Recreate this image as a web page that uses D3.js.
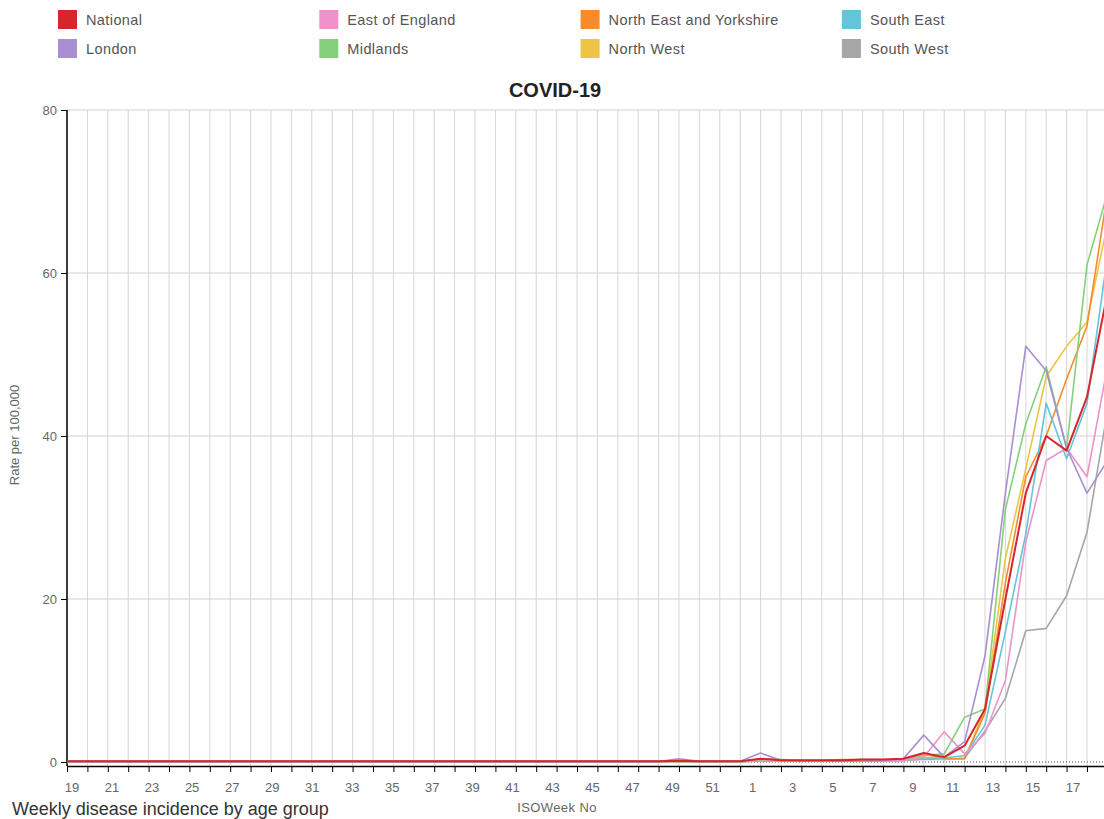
<!DOCTYPE html>
<html>
  <head>
    <title>COVID-19 rate per 100,000</title>
    <script src="https://cdn.jsdelivr.net/npm/d3@7"></script>
    <style>
      body { margin: 0; background: #fff; }
      text { font-family: "Liberation Sans", Arial, sans-serif; }
    </style>
  </head>
  <body>
    <svg width="1104" height="819" id="mainsvg" style="display: block"></svg>
    <script>
      // ISO weeks: 2019 w19 .. 2020 w18
      const weeks = [
        19, 20, 21, 22, 23, 24, 25, 26, 27, 28, 29, 30, 31, 32, 33, 34, 35, 36,
        37, 38, 39, 40, 41, 42, 43, 44, 45, 46, 47, 48, 49, 50, 51, 52,
        1, 2, 3, 4, 5, 6, 7, 8, 9, 10, 11, 12, 13, 14, 15, 16, 17, 18
      ];
      const yTicks = [0, 20, 40, 60, 80];

      const regionNames = ["National", "East of England", "North East and Yorkshire", "South East",
                           "London", "Midlands", "North West", "South West"];
      const regionColors = ["#d7262b", "#ee93c9", "#f58b2b", "#62c5d9",
                            "#a98ed2", "#84d07b", "#eec444", "#a6a6a6"];

      // rate per 100,000, one value per week above
      const national = [
        0.1, 0.1, 0.1, 0.1, 0.1, 0.1, 0.1, 0.1, 0.1, 0.1,
        0.1, 0.1, 0.1, 0.1, 0.1, 0.1, 0.1, 0.1, 0.1, 0.1,
        0.1, 0.1, 0.1, 0.1, 0.1, 0.1, 0.1, 0.1, 0.1, 0.1,
        0.15, 0.1, 0.1, 0.1,
        0.4, 0.2, 0.2, 0.2, 0.2, 0.3, 0.3, 0.4,
        1.1, 0.6, 2.0, 6.5, 20, 33, 40, 38.2, 44.8, 57.5
      ];
      const eastOfEngland = [
        0.05, 0.05, 0.05, 0.05, 0.05, 0.05, 0.05, 0.05, 0.05, 0.05,
        0.05, 0.05, 0.05, 0.05, 0.05, 0.05, 0.05, 0.05, 0.05, 0.05,
        0.05, 0.05, 0.05, 0.05, 0.05, 0.05, 0.05, 0.05, 0.05, 0.05,
        0.1, 0.05, 0.05, 0.05,
        0.3, 0.1, 0.1, 0.1, 0.1, 0.1, 0.1, 0.2,
        0.6, 3.7, 1.0, 3.5, 10, 27, 37, 38.5, 35, 48.5
      ];
      const northEastYorks = [
        0.05, 0.05, 0.05, 0.05, 0.05, 0.05, 0.05, 0.05, 0.05, 0.05,
        0.05, 0.05, 0.05, 0.05, 0.05, 0.05, 0.05, 0.05, 0.05, 0.05,
        0.05, 0.05, 0.05, 0.05, 0.05, 0.05, 0.05, 0.05, 0.05, 0.05,
        0.1, 0.05, 0.05, 0.05,
        0.4, 0.3, 0.2, 0.2, 0.3, 0.3, 0.3, 0.3,
        1.0, 0.4, 0.4, 6, 22, 35, 40, 47, 53.5, 69.7
      ];
      const southEast = [
        0.05, 0.05, 0.05, 0.05, 0.05, 0.05, 0.05, 0.05, 0.05, 0.05,
        0.05, 0.05, 0.05, 0.05, 0.05, 0.05, 0.05, 0.05, 0.05, 0.05,
        0.05, 0.05, 0.05, 0.05, 0.05, 0.05, 0.05, 0.05, 0.05, 0.05,
        0.1, 0.05, 0.05, 0.05,
        0.2, 0.1, 0.1, 0.1, 0.1, 0.1, 0.1, 0.2,
        0.5, 0.5, 0.8, 4.5, 16, 28, 44, 37.2, 44, 62
      ];
      const london = [
        0.05, 0.05, 0.05, 0.05, 0.05, 0.05, 0.05, 0.05, 0.05, 0.05,
        0.05, 0.05, 0.05, 0.05, 0.05, 0.05, 0.05, 0.05, 0.05, 0.05,
        0.05, 0.05, 0.05, 0.05, 0.05, 0.05, 0.05, 0.05, 0.05, 0.05,
        0.4, 0.1, 0.1, 0.1,
        1.1, 0.2, 0.1, 0.1, 0.1, 0.1, 0.2, 0.4,
        3.3, 0.6, 2.5, 13, 33, 51, 48, 38.5, 33, 37
      ];
      const midlands = [
        0.05, 0.05, 0.05, 0.05, 0.05, 0.05, 0.05, 0.05, 0.05, 0.05,
        0.05, 0.05, 0.05, 0.05, 0.05, 0.05, 0.05, 0.05, 0.05, 0.05,
        0.05, 0.05, 0.05, 0.05, 0.05, 0.05, 0.05, 0.05, 0.05, 0.05,
        0.1, 0.05, 0.05, 0.05,
        0.2, 0.1, 0.1, 0.1, 0.1, 0.1, 0.2, 0.3,
        0.8, 1.0, 5.5, 6.5, 31, 41.5, 48.5, 38.5, 61, 69.8
      ];
      const northWest = [
        0.05, 0.05, 0.05, 0.05, 0.05, 0.05, 0.05, 0.05, 0.05, 0.05,
        0.05, 0.05, 0.05, 0.05, 0.05, 0.05, 0.05, 0.05, 0.05, 0.05,
        0.05, 0.05, 0.05, 0.05, 0.05, 0.05, 0.05, 0.05, 0.05, 0.05,
        0.05, 0.05, 0.05, 0.05,
        0.2, 0.1, 0.1, 0.1, 0.1, 0.1, 0.1, 0.2,
        0.6, 0.3, 0.4, 6.5, 25, 36, 47.3, 51, 54, 66
      ];
      const southWest = [
        0.05, 0.05, 0.05, 0.05, 0.05, 0.05, 0.05, 0.05, 0.05, 0.05,
        0.05, 0.05, 0.05, 0.05, 0.05, 0.05, 0.05, 0.05, 0.05, 0.05,
        0.05, 0.05, 0.05, 0.05, 0.05, 0.05, 0.05, 0.05, 0.05, 0.05,
        0.05, 0.05, 0.05, 0.05,
        0.1, 0.1, 0.1, 0.1, 0.1, 0.1, 0.1, 0.2,
        0.3, 0.3, 0.5, 3.8, 7.8, 16.1, 16.4, 20.4, 28.2, 43
      ];
      const regionValues = [national, eastOfEngland, northEastYorks, southEast,
                            london, midlands, northWest, southWest];

      const svg = d3.select("#mainsvg");
      const width = +svg.attr("width");
      const margin = { left: 67, top: 110, zero: 762, axis: 766 };

      // x: one step per week, the last week runs just past the right edge
      const x = d3.scaleLinear().domain([0, weeks.length - 1]).range([margin.left, margin.left + 20.4 * 51]);
      // tick labels sit on a slightly tighter spacing than the ticks
      const xLabel = d3.scaleLinear().domain([0, weeks.length - 1]).range([72, 1093]);
      const y = d3.scaleLinear().domain([0, 80]).range([margin.zero, margin.top]);

      // 网格
      const grid = svg.append("g");
      grid.selectAll(".vgrid")
        .data(d3.range(weeks.length))
        .join("line")
        .attr("x1", (d) => x(d)).attr("x2", (d) => x(d))
        .attr("y1", margin.top).attr("y2", margin.axis)
        .attr("stroke", "#d6d6d6");
      grid.selectAll(".hgrid")
        .data(yTicks.slice(1))
        .join("line")
        .attr("x1", margin.left).attr("x2", width)
        .attr("y1", (d) => y(d)).attr("y2", (d) => y(d))
        .attr("stroke", "#d0d0d0");

      // dotted zero line
      svg.append("line")
        .attr("x1", margin.left).attr("x2", width)
        .attr("y1", y(0)).attr("y2", y(0))
        .attr("stroke", "#555").attr("stroke-dasharray", "1,2");

      // x axis: a tick every week, label every other week
      const xAxis = svg.append("g")
        .attr("transform", `translate(0, ${margin.axis})`)
        .call(d3.axisBottom(x).tickValues(d3.range(weeks.length)).tickFormat("").tickSize(6).tickSizeOuter(0));
      xAxis.select(".domain").attr("stroke", "#000").attr("stroke-width", 1.5);
      xAxis.selectAll(".tick line").attr("stroke", "#000");

      svg.append("g").selectAll("text")
        .data(d3.range(0, weeks.length, 2))
        .join("text")
        .attr("x", (d) => xLabel(d))
        .attr("y", 792)
        .attr("text-anchor", "middle")
        .attr("font-size", 13)
        .attr("fill", "#666")
        .text((d) => weeks[d]);

      // y axis
      const yAxis = svg.append("g")
        .attr("transform", `translate(${margin.left}, 0)`)
        .call(d3.axisLeft(y).tickValues(yTicks).tickSize(6).tickPadding(4));
      yAxis.select(".domain").remove();
      yAxis.selectAll(".tick line").attr("stroke", "#000");
      yAxis.selectAll(".tick text").attr("font-size", 13).attr("fill", "#666")
        .attr("font-family", "Liberation Sans, Arial, sans-serif");
      svg.append("line")
        .attr("x1", margin.left).attr("x2", margin.left)
        .attr("y1", margin.top).attr("y2", margin.axis)
        .attr("stroke", "#000").attr("stroke-width", 1.5);

      // 折线, National 画在最上面
      const line = d3.line().x((d, i) => x(i)).y((d) => y(d));
      const order = [7, 6, 2, 3, 5, 1, 4, 0];
      svg.append("g").selectAll("path")
        .data(order)
        .join("path")
        .attr("d", (k) => line(regionValues[k]))
        .attr("fill", "none")
        .attr("stroke", (k) => regionColors[k])
        .attr("stroke-width", (k) => (k === 0 ? 2 : 1.6))
        .attr("stroke-linejoin", "round");

      // legend, 2 rows x 4 columns
      const legend = svg.append("g").selectAll("g")
        .data(regionNames)
        .join("g")
        .attr("transform", (d, i) => `translate(${58 + (i % 4) * 261.3}, ${10 + Math.floor(i / 4) * 29})`);
      legend.append("rect")
        .attr("width", 19).attr("height", 19)
        .attr("fill", (d, i) => regionColors[i]);
      legend.append("text")
        .attr("x", 28).attr("y", 9.5).attr("dy", "0.35em")
        .attr("font-size", 14.5)
        .attr("letter-spacing", 0.4)
        .attr("fill", "#555")
        .text((d) => d);

      // titles
      svg.append("text")
        .attr("x", 555).attr("y", 97)
        .attr("text-anchor", "middle")
        .attr("font-size", 20).attr("font-weight", "bold")
        .attr("fill", "#222")
        .text("COVID-19");
      svg.append("text")
        .attr("transform", "translate(19, 435) rotate(-90)")
        .attr("text-anchor", "middle")
        .attr("font-size", 13)
        .attr("fill", "#666")
        .text("Rate per 100,000");
      svg.append("text")
        .attr("x", 557).attr("y", 812)
        .attr("text-anchor", "middle")
        .attr("font-size", 13).attr("letter-spacing", 0.4)
        .attr("fill", "#666")
        .text("ISOWeek No");
      svg.append("text")
        .attr("x", 12).attr("y", 815)
        .attr("font-size", 18)
        .attr("fill", "#333")
        .text("Weekly disease incidence by age group");
    </script>
  </body>
</html>
